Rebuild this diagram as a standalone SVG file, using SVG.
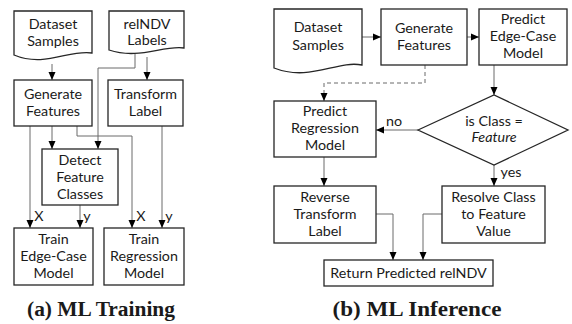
<svg xmlns="http://www.w3.org/2000/svg" width="572" height="324" viewBox="0 0 572 324">
<defs>
<marker id="ah" viewBox="0 0 8 8" refX="8" refY="4" markerWidth="8" markerHeight="8" markerUnits="userSpaceOnUse" orient="auto">
<path d="M0,0.5 L8,4 L0,7.5 Z" fill="#000"/>
</marker>
<style>
.bx{fill:#fff;stroke:#262626;stroke-width:1.3}
.t{font-family:Lato,"Liberation Sans",sans-serif;font-size:14.3px;fill:#1a1a1a;text-anchor:middle}
.c{fill:none;stroke:#6b6b6b;stroke-width:1;marker-end:url(#ah)}
.d{stroke-dasharray:4,3}
.cap{font-family:"Liberation Serif",serif;font-weight:bold;font-size:20px;fill:#1a1a1a;text-anchor:middle}
</style>
</defs>
<rect width="572" height="324" fill="#fff"/>
<g id="connectors">
<path class="c" d="M52,64 V80"/>
<path class="c" d="M147,57 V80"/>
<path class="c" d="M135,54 V68 H98 V149"/>
<path class="c" d="M52,126 V149"/>
<path class="c" d="M30,126 V228"/>
<path class="c" d="M80,205 V228"/>
<path class="c" d="M77,126 V136 H132 V228"/>
<path class="c" d="M162,126 V228"/>
<text class="t" x="39" y="221">X</text>
<text class="t" x="87" y="221">y</text>
<text class="t" x="141" y="221">X</text>
<text class="t" x="169" y="221">y</text>
<path class="c" d="M362,37 H381"/>
<path class="c" d="M467,37 H479"/>
<path class="c d" d="M425,65 V83 H324 V101"/>
<path class="c" d="M494,65 V95"/>
<path class="c" d="M418,130 H376"/>
<path class="c" d="M494,165 V186"/>
<path class="c" d="M324,157 V186"/>
<path class="c" d="M376,214 H393 V260"/>
<path class="c" d="M442,214 H423 V260"/>
<text class="t" x="394" y="126">no</text>
<text class="t" x="511" y="177">yes</text>
</g>
<g id="a-dataset">
<path class="bx" d="M14,11 H92 V53 C70,49 45,68 14,55 Z"/>
<text class="t" x="53" y="29">Dataset</text>
<text class="t" x="53" y="46">Samples</text>
</g>
<g id="a-relndv">
<path class="bx" d="M109,11 H184 V48 C163,45 139,60 109,50 Z"/>
<text class="t" x="147" y="29">relNDV</text>
<text class="t" x="147" y="45">Labels</text>
</g>
<g id="a-generate">
<rect class="bx" x="14" y="80" width="78" height="46"/>
<text class="t" x="53" y="99">Generate</text>
<text class="t" x="53" y="116">Features</text>
</g>
<g id="a-transform">
<rect class="bx" x="108" y="80" width="75" height="46"/>
<text class="t" x="145.5" y="99">Transform</text>
<text class="t" x="145.5" y="116">Label</text>
</g>
<g id="a-detect">
<rect class="bx" x="42" y="149" width="76" height="56"/>
<text class="t" x="80" y="165">Detect</text>
<text class="t" x="80" y="182">Feature</text>
<text class="t" x="80" y="199">Classes</text>
</g>
<g id="a-train-edge">
<rect class="bx" x="14" y="228" width="79" height="57"/>
<text class="t" x="53.5" y="244">Train</text>
<text class="t" x="53.5" y="261">Edge-Case</text>
<text class="t" x="53.5" y="278">Model</text>
</g>
<g id="a-train-reg">
<rect class="bx" x="104" y="228" width="80" height="57"/>
<text class="t" x="144" y="244">Train</text>
<text class="t" x="144" y="261">Regression</text>
<text class="t" x="144" y="278">Model</text>
</g>
<g id="b-dataset">
<path class="bx" d="M274,9 H362 V65 C337,60 310,82 274,68 Z"/>
<text class="t" x="318" y="32">Dataset</text>
<text class="t" x="318" y="50">Samples</text>
</g>
<g id="b-generate">
<rect class="bx" x="381" y="9" width="86" height="56"/>
<text class="t" x="424" y="33">Generate</text>
<text class="t" x="424" y="50">Features</text>
</g>
<g id="b-predict-edge">
<rect class="bx" x="479" y="9" width="88" height="56"/>
<text class="t" x="523" y="24">Predict</text>
<text class="t" x="523" y="41">Edge-Case</text>
<text class="t" x="523" y="58">Model</text>
</g>
<g id="b-decision">
<path class="bx" d="M418,130 L494,95 L568,130 L494,165 Z"/>
<text class="t" x="494" y="126">is Class =</text>
<text class="t" x="494" y="142" font-style="italic">Feature</text>
</g>
<g id="b-predict-reg">
<rect class="bx" x="274" y="101" width="102" height="56"/>
<text class="t" x="325" y="116">Predict</text>
<text class="t" x="325" y="133">Regression</text>
<text class="t" x="325" y="150">Model</text>
</g>
<g id="b-reverse">
<rect class="bx" x="274" y="186" width="102" height="57"/>
<text class="t" x="325" y="202">Reverse</text>
<text class="t" x="325" y="219">Transform</text>
<text class="t" x="325" y="236">Label</text>
</g>
<g id="b-resolve">
<rect class="bx" x="442" y="186" width="103" height="57"/>
<text class="t" x="493.5" y="202">Resolve Class</text>
<text class="t" x="493.5" y="219">to Feature</text>
<text class="t" x="493.5" y="236">Value</text>
</g>
<g id="b-return">
<rect class="bx" x="324" y="260" width="169" height="26"/>
<text class="t" x="408.5" y="277.5">Return Predicted relNDV</text>
</g>
<text class="cap" x="101" y="316" textLength="148" lengthAdjust="spacingAndGlyphs">(a) ML Training</text>
<text class="cap" x="417" y="316" textLength="169" lengthAdjust="spacingAndGlyphs">(b) ML Inference</text>
</svg>
